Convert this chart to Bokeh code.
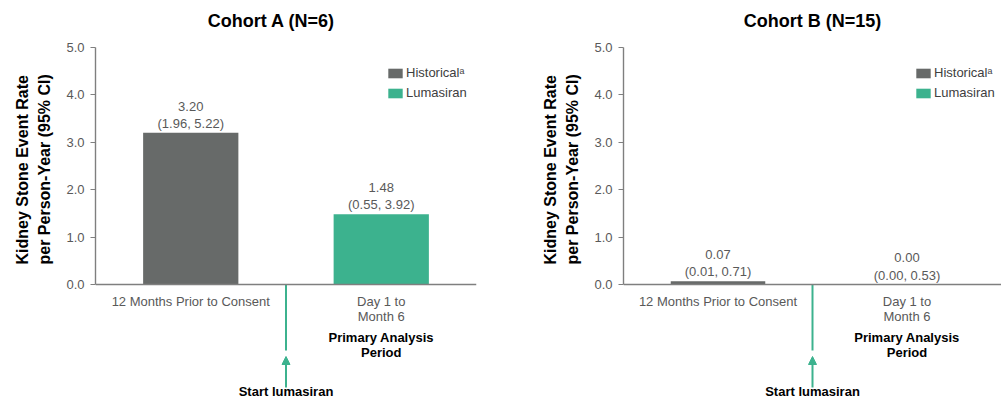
from bokeh.plotting import figure
from bokeh.models import (Range1d, FactorRange, ColumnDataSource, Legend, LegendItem,
                          Title, Arrow, NormalHead, FixedTicker, NumeralTickFormatter)
from bokeh.core.properties import value
from bokeh.layouts import row
from bokeh.embed import file_html
from bokeh.resources import INLINE

# ---------------- data ----------------
periods = ["12 Months Prior to Consent", "Day 1 to\nMonth 6"]
series = ["Historical\u1d43", "Lumasiran"]
cohort_titles = ["Cohort A (N=6)", "Cohort B (N=15)"]
cohort_a_rate = [3.20, 1.48]
cohort_a_ci_low = [1.96, 0.55]
cohort_a_ci_high = [5.22, 3.92]
cohort_b_rate = [0.07, 0.00]
cohort_b_ci_low = [0.01, 0.00]
cohort_b_ci_high = [0.71, 0.53]
y_ticks = [0.0, 1.0, 2.0, 3.0, 4.0, 5.0]
y_label = "Kidney Stone Event Rate\nper Person-Year (95% CI)"
period_note = "Primary Analysis\nPeriod"
start_note = "Start lumasiran"

# ---------------- style ----------------
FONT = "Liberation Sans"
GRAY = "#676a69"
GREEN = "#3cb28e"
AXIS = "#7f7f7f"
TXT = "#595959"
Y_MAX = 5.0
PX = Y_MAX / 237.0     # data units per pixel
ABOVE = 284 * PX       # frame reaches to the top of the picture
BELOW = 116 * PX       # and to its bottom


def panel(title, rates, lows, highs, width, b_left, b_right, title_shift):
    labels = [f"{r:.2f}\n({lo:.2f}, {hi:.2f})" for r, lo, hi in zip(rates, lows, highs)]
    src = ColumnDataSource(dict(x=periods, top=rates, color=[GRAY, GREEN], label=labels))
    p = figure(width=width, height=400, x_range=FactorRange(*periods, range_padding=0),
               y_range=Range1d(-BELOW, ABOVE), output_backend="svg", toolbar_location=None,
               min_border_left=b_left, min_border_right=b_right,
               min_border_top=0, min_border_bottom=0)
    p.outline_line_color = None
    p.xgrid.grid_line_color = None
    p.ygrid.grid_line_color = None
    p.background_fill_color = "white"

    # cohort title
    p.text(x=[1.0], y=[ABOVE - 20 * PX], text=[title], x_offset=title_shift,
           text_align="center", text_baseline="middle", text_font=value(FONT),
           text_font_size="18px", text_font_style="bold", text_color="black")

    r = p.vbar(x="x", top="top", width=0.5, color="color", line_color=None, source=src)
    p.text(x="x", y="top", text="label", source=src, text_align="center",
           text_baseline="bottom", y_offset=-2, text_font=value(FONT),
           text_font_size="13px", text_color=TXT, text_line_height=1.15)

    # axes
    p.yaxis.ticker = FixedTicker(ticks=y_ticks)
    p.yaxis.formatter = NumeralTickFormatter(format="0.0")
    p.yaxis.bounds = (0, Y_MAX)
    p.xaxis.fixed_location = 0
    for ax in (p.xaxis[0], p.yaxis[0]):
        ax.axis_line_color = AXIS
        ax.axis_line_width = 1.4
        ax.major_label_text_font = FONT
        ax.major_label_text_font_size = "13px"
        ax.major_label_text_color = TXT
        ax.minor_tick_line_color = None
    p.yaxis.major_tick_line_color = AXIS
    p.yaxis.major_tick_out = 5
    p.yaxis.major_tick_in = 0
    p.yaxis.major_label_standoff = 6
    p.xaxis.major_tick_line_color = None
    p.xaxis.major_label_standoff = 3
    p.xaxis.major_label_text_line_height = 1.0
    p.xaxis.major_label_orientation = "horizontal"

    # y-axis label as a rotated side title, centred on the 0-5 part of the axis
    p.add_layout(Title(text=y_label, align="left", offset=136, standoff=22,
                       text_font=FONT, text_font_size="16px", text_font_style="bold",
                       text_color="black", text_line_height=1.25), "left")

    # legend
    leg = Legend(items=[LegendItem(label=series[0], renderers=[r], index=0),
                        LegendItem(label=series[1], renderers=[r], index=1)],
                 location=(291, 300), padding=0, margin=0, spacing=5,
                 glyph_width=18, glyph_height=12, label_height=12, label_standoff=2,
                 label_text_font=FONT, label_text_font_size="13px", label_text_color="#404040",
                 border_line_alpha=0, background_fill_alpha=0)
    p.add_layout(leg)

    # separator and arrow
    p.segment(x0=[1.0], y0=[0], x1=[1.0], y1=[-66 * PX], line_color=GREEN, line_width=2)
    p.add_layout(Arrow(end=NormalHead(size=8, fill_color=GREEN, line_color=GREEN, line_width=1),
                       x_start=1.0, y_start=-103 * PX, x_end=1.0, y_end=-72 * PX,
                       line_color=GREEN, line_width=2))
    p.text(x=[1.5], y=[-45 * PX], text=[period_note], text_align="center",
           text_baseline="top", text_font=value(FONT), text_font_size="13px",
           text_font_style="bold", text_color="black", text_line_height=1.0)
    p.text(x=[1.0], y=[-107 * PX], text=[start_note], text_align="center",
           text_baseline="middle", text_font=value(FONT), text_font_size="13px",
           text_font_style="bold", text_color="black")
    return p


p1 = panel(cohort_titles[0], cohort_a_rate, cohort_a_ci_low, cohort_a_ci_high,
           510, 95, 34, -14.5)
p2 = panel(cohort_titles[1], cohort_b_rate, cohort_b_ci_low, cohort_b_ci_high,
           491, 113, 0, 0)

layout = row(p1, p2)
open("out.html", "w").write(file_html(layout, INLINE))
